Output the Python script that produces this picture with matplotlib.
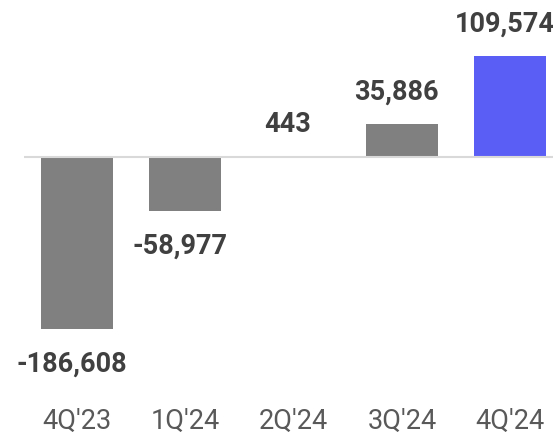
import matplotlib
matplotlib.use("Agg")
import matplotlib.pyplot as plt

# Quarterly values
quarters = ["4Q'23", "1Q'24", "2Q'24", "3Q'24", "4Q'24"]
values = [-186608, -58977, 443, 35886, 109574]
bar_colors = ["#808080", "#808080", "#808080", "#808080", "#5b5ef5"]

plt.rcParams["font.family"] = ["Roboto", "DejaVu Sans"]

fig = plt.figure(figsize=(5.53, 4.36), dpi=100)
# axes start where the zero line starts and run off the right edge
ax = fig.add_axes([24 / 553, 41 / 436, 529 / 553, 395 / 436])

x = range(len(quarters))
ax.bar(x, values, width=0.665, color=bar_colors, zorder=2)
ax.axhline(0, color="#d9d9d9", lw=1.5, zorder=3)

for i, v in zip(x, values):
    ax.annotate(f"{v:,}", (i, v), xytext=(-4, 13.5 if v >= 0 else -15.5),
                textcoords="offset points", ha="center",
                va="bottom" if v >= 0 else "top",
                fontsize=19.5, fontweight="bold", color="#404040")

ax.set_xlim(-0.49, 4.395)
ax.set_ylim(-258700, 170650)
ax.set_xticks(list(x))
ax.set_xticklabels(quarters, fontsize=19.5, color="#595959")
ax.tick_params(axis="x", length=0, pad=9)
ax.set_yticks([])
for s in ax.spines.values():
    s.set_visible(False)

fig.savefig("out.png", dpi=100)
